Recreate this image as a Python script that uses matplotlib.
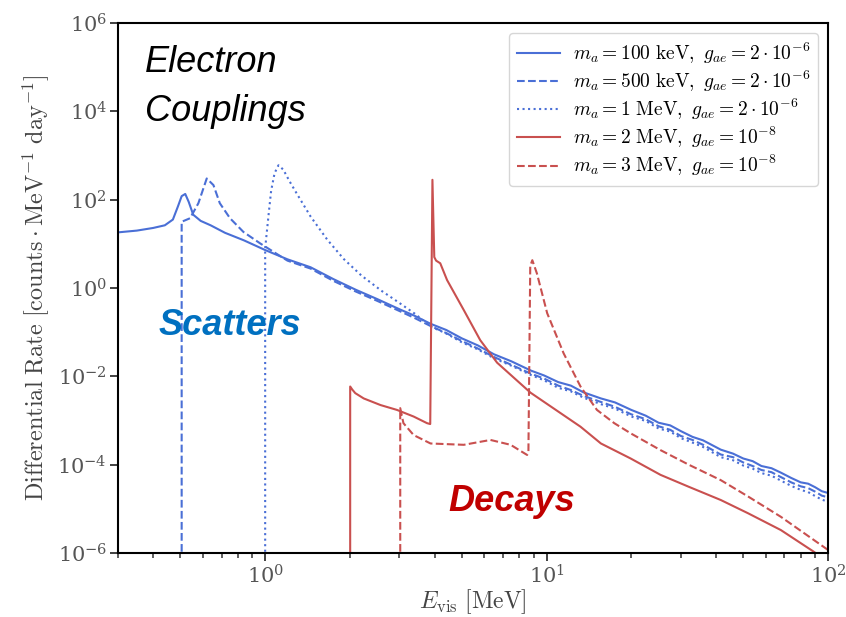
import numpy as np
import matplotlib
matplotlib.use("Agg")
import matplotlib.pyplot as plt
from matplotlib.ticker import LogLocator, NullLocator, FixedLocator

plt.rcParams['mathtext.fontset'] = 'cm'
plt.rcParams['font.family'] = ['DejaVu Serif']

# log10 of the rate; -9 stands for "no rate below threshold"

# m_a = 100 keV (scatter)
x_100k = [0.30, 0.35, 0.40, 0.44, 0.47, 0.49, 0.505, 0.52, 0.535, 0.555, 0.59, 0.64, 0.72, 0.84,
          1.0, 1.2, 1.45, 1.75, 2.1, 2.5, 3.0, 3.4, 3.87, 4.4, 5.0, 5.7, 6.5, 7.5, 8.8, 9.8, 11, 12.2,
          13.5, 15.6, 17.5, 20, 22.5, 25, 27.5, 30, 33, 36, 41.6, 46, 50, 54, 58, 63, 68, 74, 80,
          85, 90, 95, 100]
lg_100k = [1.26, 1.30, 1.36, 1.42, 1.55, 1.85, 2.08, 2.13, 1.95, 1.66, 1.52, 1.42, 1.25, 1.08,
           0.86, 0.65, 0.47, 0.20, -0.04, -0.25, -0.48, -0.63, -0.81, -0.95, -1.14, -1.30, -1.50, -1.66, -1.87, -1.98, -2.13, -2.21,
           -2.36, -2.50, -2.59, -2.76, -2.89, -3.05, -3.11, -3.24, -3.37, -3.45, -3.66, -3.75, -3.86, -3.92, -4.03, -4.08, -4.18, -4.30, -4.40,
           -4.43, -4.51, -4.60, -4.64]

# m_a = 500 keV (scatter)
x_500k = [0.505, 0.505, 0.541, 0.579, 0.62, 0.655, 0.69, 0.75, 0.837, 0.96,
          1.2, 1.45, 1.75, 2.1, 2.5, 3.0, 3.4, 3.87, 4.4, 5.0, 5.7, 6.5, 7.5, 8.8, 9.8, 11, 12.2,
          13.5, 15.6, 17.5, 20, 22.5, 25, 27.5, 30, 33, 36, 41.6, 46, 50, 54, 58, 63, 68, 74, 80,
          85, 90, 95, 100]
lg_500k = [-9, 1.50, 1.58, 1.92, 2.48, 2.33, 1.92, 1.58, 1.27, 1.01,
           0.62, 0.44, 0.16, -0.08, -0.29, -0.52, -0.68, -0.86, -1.02, -1.20, -1.37, -1.56, -1.74, -1.94, -2.05, -2.21, -2.31,
           -2.44, -2.58, -2.69, -2.86, -2.97, -3.13, -3.21, -3.35, -3.44, -3.55, -3.77, -3.83, -3.95, -4.03, -4.12, -4.17, -4.28, -4.40, -4.49,
           -4.53, -4.61, -4.70, -4.74]

# m_a = 1 MeV (scatter)
x_1M = [1.0, 1.0, 1.03, 1.05, 1.08, 1.115, 1.16, 1.22, 1.30, 1.45, 1.66, 1.9, 2.2, 2.6, 2.94, 3.4,
        3.87, 4.4, 5.0, 5.7, 6.5, 7.5, 8.8, 9.8, 11, 12.2, 13.5, 15.6, 17.5, 20, 22.5, 25, 27.5, 30,
        33, 36, 41.6, 46, 50, 54, 58, 63, 68, 74, 80, 85, 90, 95, 100]
lg_1M = [-9, 0.9, 1.7, 2.2, 2.6, 2.78, 2.68, 2.42, 2.12, 1.62, 1.10, 0.66, 0.28, -0.07, -0.30, -0.58,
         -0.87, -1.03, -1.23, -1.39, -1.59, -1.76, -1.97, -2.09, -2.26, -2.34, -2.48, -2.63, -2.73, -2.91, -3.01, -3.18, -3.25, -3.40,
         -3.50, -3.60, -3.83, -3.90, -4.02, -4.09, -4.19, -4.25, -4.36, -4.48, -4.57, -4.62, -4.71, -4.79, -4.84]

# m_a = 2 MeV (decay)
x_2M = [2.005, 2.005, 2.04, 2.09, 2.24, 2.57, 2.94, 3.37, 3.76, 3.86, 3.93, 3.99, 4.05, 4.19, 4.43,
        5.08, 5.81, 6.67, 8.77, 13.2, 15.6, 19.9, 25.4, 32, 41.6, 52, 68, 89, 100]
lg_2M = [-9, -2.23, -2.30, -2.38, -2.50, -2.65, -2.76, -2.91, -3.06, -3.08, 2.45, 0.70, 0.62, 0.56, 0.18,
         -0.50, -1.18, -1.69, -2.37, -3.14, -3.52, -3.86, -4.23, -4.50, -4.80, -5.10, -5.48, -5.97, -6.2]

# m_a = 3 MeV (decay)
x_3M = [3.02, 3.02, 3.10, 3.37, 3.87, 5.08, 6.32, 7.45, 8.53, 8.62, 8.75, 8.9, 9.24, 10.05,
        11.5, 13.2, 15.1, 17.4, 19.9, 25.4, 32, 41.6, 52, 68, 100]
lg_3M = [-9, -2.72, -3.06, -3.33, -3.52, -3.55, -3.44, -3.55, -3.78, -3.70, 0.50, 0.63, 0.33, -0.57,
         -1.48, -2.23, -2.76, -3.06, -3.29, -3.67, -4.00, -4.35, -4.72, -5.18, -5.93]

labels = [r'$m_a = 100\ \mathrm{keV},\ g_{ae} = 2\cdot10^{-6}$',
          r'$m_a = 500\ \mathrm{keV},\ g_{ae} = 2\cdot10^{-6}$',
          r'$m_a = 1\ \mathrm{MeV},\ g_{ae} = 2\cdot10^{-6}$',
          r'$m_a = 2\ \mathrm{MeV},\ g_{ae} = 10^{-8}$',
          r'$m_a = 3\ \mathrm{MeV},\ g_{ae} = 10^{-8}$']

blue = '#4a6fd6'
red = '#c9504f'

fig = plt.figure(figsize=(8.46, 6.17), dpi=100)
ax = fig.add_axes([0.1395, 0.1037, 0.8392, 0.859])

ax.plot(x_100k, 10.0 ** np.array(lg_100k), color=blue, lw=1.5, ls='-', label=labels[0])
ax.plot(x_500k, 10.0 ** np.array(lg_500k), color=blue, lw=1.5, ls='--', label=labels[1])
ax.plot(x_1M, 10.0 ** np.array(lg_1M), color=blue, lw=1.5, ls=':', label=labels[2])
ax.plot(x_2M, 10.0 ** np.array(lg_2M), color=red, lw=1.5, ls='-', label=labels[3])
ax.plot(x_3M, 10.0 ** np.array(lg_3M), color=red, lw=1.5, ls='--', label=labels[4])

ax.set_xscale('log')
ax.set_yscale('log')
ax.set_xlim(0.3, 100)
ax.set_ylim(1e-6, 1e6)
ax.yaxis.set_major_locator(FixedLocator([10.0 ** k for k in range(-6, 7, 2)]))
ax.yaxis.set_minor_locator(NullLocator())
ax.xaxis.set_minor_locator(LogLocator(base=10, subs=np.arange(2, 10)))

ax.tick_params(which='major', direction='out', length=6, width=1.3, labelsize=15, pad=2,
               colors='#333333', labelcolor='#555555')
ax.tick_params(which='minor', direction='out', length=3.5, width=1.1, colors='#333333')
for s in ax.spines.values():
    s.set_linewidth(1.5)

ax.set_xlabel(r'$E_{\rm vis}\ [\mathrm{MeV}]$', fontsize=17, color='#444444', labelpad=0)
ax.set_ylabel(r'$\mathrm{Differential\ Rate\ [counts}\cdot\mathrm{MeV}^{-1}\ \mathrm{day}^{-1}]$',
              fontsize=17.5, color='#444444', labelpad=4)

leg = ax.legend(loc='upper right', fontsize=14, handlelength=2.2, frameon=True, fancybox=True,
                borderpad=0.4, labelspacing=0.15, handletextpad=0.7)
leg.get_frame().set_edgecolor('#cccccc')

ax.text(0.038, 0.958, 'Electron', transform=ax.transAxes, fontsize=26, style='italic',
        family='Liberation Sans', va='top', ha='left')
ax.text(0.038, 0.866, 'Couplings', transform=ax.transAxes, fontsize=26, style='italic',
        family='Liberation Sans', va='top', ha='left')
ax.text(0.057, 0.462, 'Scatters', transform=ax.transAxes, fontsize=26, style='italic',
        weight='bold', family='Liberation Sans', color='#0070c0', va='top', ha='left')
ax.text(0.465, 0.13, 'Decays', transform=ax.transAxes, fontsize=26, style='italic',
        weight='bold', family='Liberation Sans', color='#c00000', va='top', ha='left')

fig.savefig('out.png', dpi=100)
